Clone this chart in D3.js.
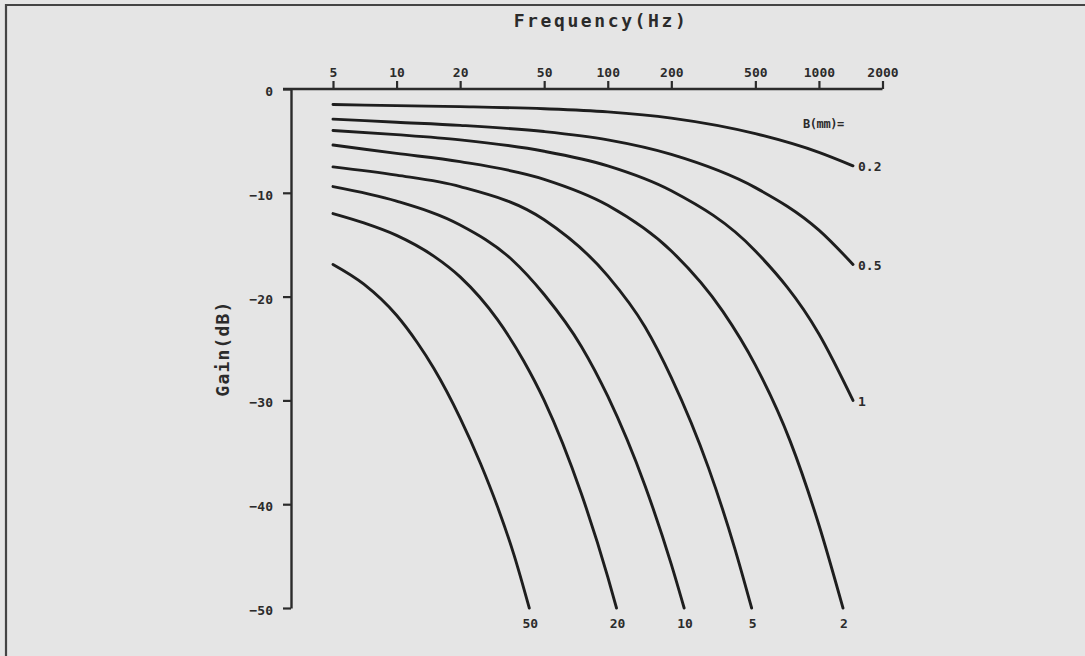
<!DOCTYPE html>
<html>
<head>
<meta charset="utf-8">
<script src="https://cdn.jsdelivr.net/npm/d3@7"></script>
<style>
  html, body { margin: 0; padding: 0; background: #e5e5e5; }
  svg { display: block; }
  text { font-family: "DejaVu Sans Mono", monospace; font-weight: bold; fill: #2b2b2b; }
</style>
</head>
<body>
<script>
let width = 1085;
let height = 656;

// axis ticks
const freqTicks = [5, 10, 20, 50, 100, 200, 500, 1000, 2000];
const gainTicks = [0, -10, -20, -30, -40, -50];

// B (mm) of each curve
const spacings = ["0.2", "0.5", "1", "2", "5", "10", "20", "50"];

const freq_0_2 = [5, 10, 20, 50, 100, 200, 500, 1000, 1450];
const gain_0_2 = [-1.5, -1.6, -1.7, -1.9, -2.2, -2.8, -4.3, -6.1, -7.4];
const freq_0_5 = [5, 10, 20, 50, 100, 200, 500, 1000, 1450];
const gain_0_5 = [-2.9, -3.2, -3.5, -4.1, -4.9, -6.3, -9.5, -13.6, -16.9];
const freq_1 = [5, 10, 20, 50, 100, 200, 500, 1000, 1450];
const gain_1 = [-4.0, -4.4, -4.9, -6.0, -7.4, -9.8, -15.6, -23.6, -30];
const freq_2 = [5, 10, 20, 50, 100, 200, 350, 500, 730, 1000, 1300];
const gain_2 = [-5.4, -6.2, -7.0, -8.7, -11.2, -15.6, -21.4, -26.6, -33.9, -42.0, -50];
const freq_5 = [5, 10, 20, 50, 100, 150, 200, 300, 400, 480];
const gain_5 = [-7.5, -8.3, -9.4, -12.6, -18.0, -22.9, -27.8, -36.5, -44.3, -50];
const freq_10 = [5, 10, 20, 35, 50, 75, 100, 150, 200, 230];
const gain_10 = [-9.4, -10.8, -13.1, -16.4, -19.8, -24.8, -29.6, -38.2, -45.8, -50];
const freq_20 = [5, 7, 10, 15, 20, 30, 40, 50, 75, 100, 110];
const gain_20 = [-12, -12.9, -14.1, -16.1, -18.1, -22.2, -26.2, -30.0, -39.0, -47.0, -50];
const freq_50 = [5, 7, 10, 12.5, 15, 20, 25, 30, 36, 42.5];
const gain_50 = [-16.9, -18.8, -21.8, -24.4, -26.9, -31.7, -36.1, -40.2, -44.9, -50];

const freqs = [freq_0_2, freq_0_5, freq_1, freq_2, freq_5, freq_10, freq_20, freq_50];
const gains = [gain_0_2, gain_0_5, gain_1, gain_2, gain_5, gain_10, gain_20, gain_50];

const curves = spacings.map((b, i) => ({
    b: b,
    points: freqs[i].map((f, j) => [f, gains[i][j]])
}));

const plotLeft = 291;

const x = d3.scaleLog().domain([5, 2000]).range([333, 882.5]);
const y = d3.scaleLinear().domain([0, -50]).range([89, 608]);

const svg = d3.select("body").append("svg")
    .attr("width", width)
    .attr("height", height)
    .attr("viewBox", [0, 0, width, height]);

// page frame (top and left edges only)
svg.append("rect").attr("x", 0).attr("y", 0).attr("width", width).attr("height", height).attr("fill", "#e5e5e5");
svg.append("line").attr("x1", 5).attr("x2", width).attr("y1", 5).attr("y2", 5)
    .attr("stroke", "#444").attr("stroke-width", 2.2);
svg.append("line").attr("x1", 6).attr("x2", 6).attr("y1", 4).attr("y2", height)
    .attr("stroke", "#444").attr("stroke-width", 2.2);

// x axis along the top
const xAxis = svg.append("g")
    .attr("transform", `translate(0,${y(0)})`)
    .call(d3.axisTop(x).tickValues(freqTicks).tickFormat(d3.format("d")).tickSize(8).tickSizeOuter(0))
    .call(g => g.select(".domain").remove())
    .call(g => g.selectAll(".tick line").attr("stroke", "#2b2b2b").attr("stroke-width", 2.2))
    .call(g => g.selectAll(".tick text").attr("font-size", 13).attr("dy", "-0.1em").attr("fill", "#2b2b2b"));

xAxis.append("line")
    .attr("x1", plotLeft - 8).attr("x2", x(2000))
    .attr("stroke", "#2b2b2b").attr("stroke-width", 2.4);

// y axis
const yAxis = svg.append("g")
    .attr("transform", `translate(${plotLeft},0)`)
    .call(d3.axisLeft(y).tickValues(gainTicks).tickFormat(d3.format("d")).tickSize(8).tickSizeOuter(0))
    .call(g => g.select(".domain").attr("stroke", "#2b2b2b").attr("stroke-width", 2.4))
    .call(g => g.selectAll(".tick line").attr("stroke", "#2b2b2b").attr("stroke-width", 2.2))
    .call(g => g.selectAll(".tick text").attr("font-size", 13).attr("x", -18).attr("dy", "0.5em").attr("fill", "#2b2b2b"));

// axis titles
svg.append("text")
    .attr("x", 601).attr("y", 27)
    .attr("text-anchor", "middle")
    .attr("font-size", 18)
    .attr("letter-spacing", 2.6)
    .text("Frequency(Hz)");

svg.append("text")
    .attr("transform", `translate(229,${y(-25)}) rotate(-90)`)
    .attr("text-anchor", "middle")
    .attr("font-size", 18)
    .attr("letter-spacing", 1.2)
    .text("Gain(dB)");

// curves
const line = d3.line()
    .x(d => x(d[0]))
    .y(d => y(d[1]))
    .curve(d3.curveMonotoneX);

svg.append("g")
    .attr("fill", "none")
    .attr("stroke", "#1e1e1e")
    .attr("stroke-width", 2.9)
    .attr("stroke-linecap", "round")
    .selectAll("path")
    .data(curves)
    .join("path")
    .attr("d", d => line(d.points));

// curve labels: at right end if it stops above -50, else under the end
svg.append("g")
    .selectAll("text")
    .data(curves)
    .join("text")
    .attr("font-size", 13)
    .each(function (d) {
        const last = d.points[d.points.length - 1];
        const t = d3.select(this).text(d.b);
        if (last[1] > -50) {
            t.attr("x", x(last[0]) + 5).attr("y", y(last[1])).attr("dy", "0.4em").attr("text-anchor", "start");
        } else {
            t.attr("x", x(last[0]) + 1).attr("y", y(last[1]) + 15).attr("dy", "0.4em").attr("text-anchor", "middle");
        }
    });

svg.append("text")
    .attr("x", x(1000) - 16)
    .attr("y", y(-3.25))
    .attr("dy", "0.4em")
    .attr("font-size", 12)
    .attr("letter-spacing", -0.4)
    .text("B(mm)=");
</script>
</body>
</html>
